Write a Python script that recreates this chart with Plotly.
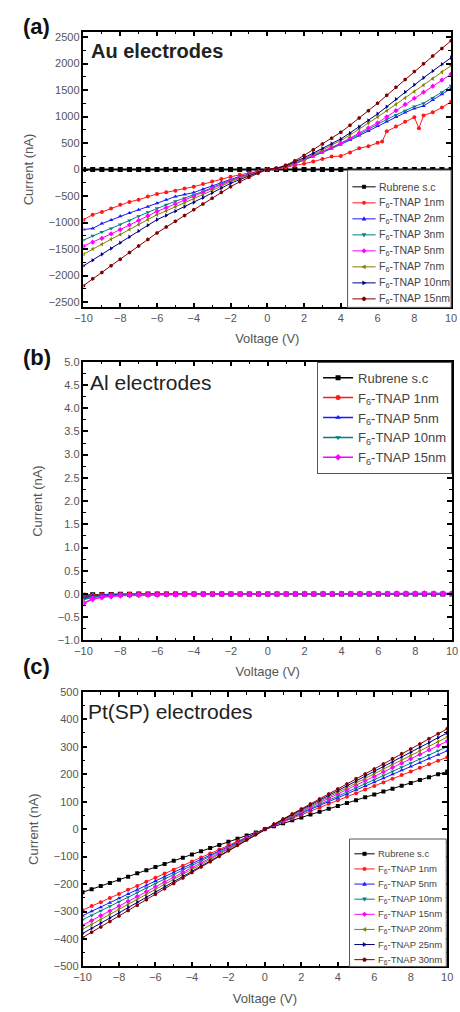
import plotly.graph_objects as go

W, H = 460, 1012

# ---------------- data ----------------
V = [-10, -9.5, -9, -8.5, -8, -7.5, -7, -6.5, -6, -5.5, -5, -4.5, -4, -3.5, -3, -2.5, -2, -1.5, -1, -0.5,
     0, 0.5, 1, 1.5, 2, 2.5, 3, 3.5, 4, 4.5, 5, 5.5, 6, 6.5, 7, 7.5, 8, 8.5, 9, 9.5, 10]

# (a) Au electrodes
A_LABELS = ["Rubrene s.c", "F<sub>6</sub>-TNAP 1nm", "F<sub>6</sub>-TNAP 2nm", "F<sub>6</sub>-TNAP 3nm",
            "F<sub>6</sub>-TNAP 5nm", "F<sub>6</sub>-TNAP 7nm", "F<sub>6</sub>-TNAP 10nm", "F<sub>6</sub>-TNAP 15nm"]
A_RUB = [0] * 41
V_A_1NM = [-10, -9.5, -9, -8.5, -8, -7.5, -7, -6.5, -6, -5.5, -5, -4.5, -4, -3.5, -3, -2.5, -2, -1.5, -1, -0.5,
           0, 0.5, 1, 1.5, 2, 2.5, 3, 3.5, 4, 4.5, 5, 5.5, 6, 6.25, 6.5, 7, 7.5, 8, 8.25, 8.5, 9, 9.5, 10]
A_1NM = [-945, -852, -800, -735, -665, -610, -570, -510, -460, -430, -400, -360, -323, -275, -225, -180, -137, -100, -65, -30,
         0, 10, 40, 72, 110, 150, 200, 245, 255, 320, 400, 440, 505, 530, 720, 810, 900, 985, 780, 1020, 1080, 1170, 1280]
A_2NM = [-1132, -1110, -1020, -950, -883, -820, -760, -700, -634, -570, -510, -470, -435, -370, -305, -245, -187, -130, -85, -40,
         0, 18, 55, 108, 175, 248, 322, 398, 473, 555, 640, 728, 820, 905, 990, 1075, 1150, 1200, 1310, 1420, 1530]
A_3NM = [-1331, -1250, -1180, -1110, -1039, -960, -880, -805, -728, -665, -600, -542, -485, -415, -340, -268, -199, -140, -90, -42,
         0, 18, 56, 112, 180, 255, 330, 408, 485, 575, 665, 762, 860, 945, 1030, 1110, 1190, 1250, 1350, 1460, 1580]
A_5NM = [-1443, -1370, -1300, -1215, -1132, -1045, -960, -875, -790, -720, -650, -580, -510, -435, -360, -285, -211, -150, -95, -45,
         0, 20, 58, 118, 190, 265, 342, 420, 498, 590, 685, 782, 880, 995, 1110, 1228, 1345, 1460, 1572, 1688, 1800]
A_7NM = [-1598, -1500, -1410, -1315, -1225, -1130, -1035, -945, -852, -780, -705, -632, -560, -478, -395, -312, -230, -165, -105, -50,
         0, 20, 62, 125, 200, 285, 372, 460, 547, 650, 758, 872, 990, 1110, 1230, 1350, 1470, 1592, 1715, 1838, 1960]
A_10NM = [-1816, -1710, -1600, -1490, -1381, -1270, -1160, -1050, -945, -865, -785, -700, -622, -530, -440, -350, -261, -190, -120, -55,
          0, 22, 70, 140, 224, 310, 398, 488, 578, 690, 805, 925, 1050, 1185, 1325, 1462, 1600, 1730, 1858, 1985, 2110]
A_15NM = [-2190, -2060, -1940, -1815, -1690, -1565, -1440, -1318, -1195, -1085, -975, -865, -760, -650, -540, -430, -325, -230, -145, -70,
          0, 25, 80, 165, 267, 375, 480, 590, 703, 835, 970, 1110, 1250, 1400, 1550, 1700, 1850, 1995, 2140, 2285, 2430]

# (b) Al electrodes
B_LABELS = ["Rubrene s.c", "F<sub>6</sub>-TNAP 1nm", "F<sub>6</sub>-TNAP 5nm", "F<sub>6</sub>-TNAP 10nm", "F<sub>6</sub>-TNAP 15nm"]
B_RUB = [-0.03, -0.02, -0.01, -0.01, -0.005, -0.005, 0, 0, 0, 0, 0, 0, 0, 0, 0, 0, 0, 0, 0, 0,
         0, 0, 0, 0, 0, 0, 0, 0, 0, 0, 0, 0, 0, 0, 0, 0, 0, 0, 0, 0, 0]
B_1NM = [-0.06, -0.035, -0.02, -0.015, -0.01, -0.008, -0.006, -0.005, -0.004, -0.003, -0.003, -0.002, -0.002, -0.001, -0.001, 0, 0, 0, 0, 0,
         0, 0, 0, 0, 0.001, 0.001, 0.001, 0.001, 0.002, 0.002, 0.002, 0.002, 0.003, 0.003, 0.003, 0.003, 0.004, 0.004, 0.004, 0.005, 0.005]
B_5NM = [-0.08, -0.05, -0.03, -0.02, -0.015, -0.01, -0.008, -0.006, -0.005, -0.004, -0.003, -0.003, -0.002, -0.002, -0.001, -0.001, 0, 0, 0, 0,
         0, 0, 0, 0.001, 0.001, 0.001, 0.002, 0.002, 0.002, 0.003, 0.003, 0.003, 0.004, 0.004, 0.004, 0.005, 0.005, 0.005, 0.006, 0.006, 0.006]
B_10NM = [-0.12, -0.07, -0.045, -0.03, -0.02, -0.015, -0.012, -0.01, -0.008, -0.006, -0.005, -0.004, -0.003, -0.003, -0.002, -0.001, -0.001, 0, 0, 0,
          0, 0, 0.001, 0.001, 0.002, 0.002, 0.002, 0.003, 0.003, 0.004, 0.004, 0.004, 0.005, 0.005, 0.006, 0.006, 0.006, 0.007, 0.007, 0.008, 0.008]
B_15NM = [-0.2, -0.11, -0.07, -0.05, -0.035, -0.028, -0.022, -0.018, -0.015, -0.012, -0.01, -0.008, -0.007, -0.005, -0.004, -0.003, -0.002, -0.001, 0, 0,
          0, 0, 0.001, 0.001, 0.002, 0.002, 0.003, 0.003, 0.004, 0.004, 0.005, 0.005, 0.006, 0.006, 0.007, 0.007, 0.008, 0.008, 0.009, 0.009, 0.01]

# (c) Pt(SP) electrodes
C_LABELS = ["Rubrene s.c", "F<sub>6</sub>-TNAP 1nm", "F<sub>6</sub>-TNAP 5nm", "F<sub>6</sub>-TNAP 10nm",
            "F<sub>6</sub>-TNAP 15nm", "F<sub>6</sub>-TNAP 20nm", "F<sub>6</sub>-TNAP 25nm", "F<sub>6</sub>-TNAP 30nm"]
C_RUB = [-230, -219, -207, -196, -184, -173, -161, -150, -138, -127, -115, -104, -92, -81, -69, -58, -46, -35, -23, -12,
         0, 10, 21, 32, 42, 53, 63, 74, 84, 95, 105, 116, 126, 137, 147, 158, 168, 179, 189, 200, 210]
C_1NM = [-295, -280, -266, -251, -236, -221, -207, -192, -177, -162, -148, -133, -118, -103, -89, -74, -59, -44, -30, -15,
         0, 13, 26, 39, 52, 66, 79, 92, 105, 118, 131, 144, 157, 170, 183, 197, 210, 223, 236, 249, 262]
C_5NM = [-315, -299, -284, -268, -252, -236, -221, -205, -189, -173, -158, -142, -126, -110, -95, -79, -63, -47, -32, -16,
         0, 14, 29, 43, 57, 71, 86, 100, 114, 128, 143, 157, 171, 185, 200, 214, 228, 242, 257, 271, 285]
C_10NM = [-330, -314, -297, -281, -264, -248, -231, -215, -198, -182, -165, -149, -132, -116, -99, -83, -66, -50, -33, -17,
          0, 15, 30, 45, 60, 75, 90, 105, 120, 135, 150, 165, 180, 195, 210, 225, 240, 255, 270, 285, 300]
C_15NM = [-350, -333, -315, -298, -280, -263, -245, -228, -210, -193, -175, -158, -140, -123, -105, -88, -70, -53, -35, -18,
          0, 16, 32, 48, 64, 80, 96, 112, 128, 144, 160, 176, 192, 208, 224, 240, 256, 272, 288, 304, 320]
C_20NM = [-365, -347, -329, -310, -292, -274, -256, -237, -219, -201, -183, -164, -146, -128, -110, -91, -73, -55, -37, -18,
          0, 17, 34, 50, 67, 84, 101, 117, 134, 151, 168, 184, 201, 218, 235, 251, 268, 285, 302, 318, 335]
C_25NM = [-380, -361, -342, -323, -304, -285, -266, -247, -228, -209, -190, -171, -152, -133, -114, -95, -76, -57, -38, -19,
          0, 18, 35, 53, 70, 88, 105, 123, 140, 158, 175, 193, 210, 228, 245, 263, 280, 298, 315, 333, 350]
C_30NM = [-395, -375, -356, -336, -316, -296, -277, -257, -237, -217, -198, -178, -158, -138, -119, -99, -79, -59, -40, -20,
          0, 18, 37, 55, 73, 91, 110, 128, 146, 164, 183, 201, 219, 237, 256, 274, 292, 310, 329, 347, 365]

# ---------------- styles ----------------
COLORS8 = ["#000000", "#ff1a1a", "#1a1aff", "#008080", "#ff00ff", "#808000", "#000080", "#800000"]
SYMBOLS8 = ["square", "circle", "triangle-up", "triangle-down", "diamond", "triangle-left", "triangle-right", "hexagon"]
COLORS5 = ["#000000", "#ff1a1a", "#1a1aff", "#008080", "#ff00ff"]
SYMBOLS5 = ["square", "circle", "triangle-up", "triangle-down", "diamond"]
FONT = "Arial, Liberation Sans, sans-serif"

fig = go.Figure()

a_series = [(V, A_RUB), (V_A_1NM, A_1NM), (V, A_2NM), (V, A_3NM), (V, A_5NM), (V, A_7NM), (V, A_10NM), (V, A_15NM)]
for i, (xs, ys) in enumerate(a_series):
    fig.add_trace(go.Scatter(x=xs, y=ys, mode="lines+markers", name=A_LABELS[i], showlegend=False,
                             line=dict(color=COLORS8[i], width=2 if i == 0 else 1),
                             marker=dict(color=COLORS8[i], symbol=SYMBOLS8[i], size=5 if i == 0 else 4),
                             xaxis="x", yaxis="y"))

b_series = [B_RUB, B_1NM, B_5NM, B_10NM, B_15NM]
for i, ys in enumerate(b_series):
    fig.add_trace(go.Scatter(x=V, y=ys, mode="lines+markers", name=B_LABELS[i],
                             line=dict(color=COLORS5[i], width=1.5),
                             marker=dict(color=COLORS5[i], symbol=SYMBOLS5[i], size=5),
                             xaxis="x2", yaxis="y2", legend="legend2"))

c_series = [C_RUB, C_1NM, C_5NM, C_10NM, C_15NM, C_20NM, C_25NM, C_30NM]
for i, ys in enumerate(c_series):
    fig.add_trace(go.Scatter(x=V, y=ys, mode="lines+markers", name=C_LABELS[i], showlegend=False,
                             line=dict(color=COLORS8[i], width=1),
                             marker=dict(color=COLORS8[i], symbol=SYMBOLS8[i], size=4),
                             xaxis="x3", yaxis="y3"))


def px_x(p):
    return p / W


def px_y(p):
    return 1 - p / H


def xax(dom, anchor):
    return dict(domain=[px_x(dom[0]), px_x(dom[1])], anchor=anchor, range=[-10, 10], dtick=2, tick0=0,
                showline=True, linecolor="black", linewidth=1.5, mirror="ticks",
                ticks="inside", ticklen=5, tickwidth=1.5, tickcolor="black",
                minor=dict(ticks="inside", ticklen=3, tickwidth=1, tickcolor="black", dtick=1),
                showgrid=False, zeroline=False,
                tickfont=dict(family=FONT, size=11, color="#555"),
                title=dict(text="Voltage (V)", font=dict(family=FONT, size=13, color="#555"), standoff=11))


def yax(dom, anchor, rng, dtick, minor_dtick, fmt=None, standoff=12):
    d = dict(domain=[px_y(dom[1]), px_y(dom[0])], anchor=anchor, range=rng, dtick=dtick,
             showline=True, linecolor="black", linewidth=1.5, mirror="ticks",
             ticks="inside", ticklen=5, tickwidth=1.5, tickcolor="black",
             minor=dict(ticks="inside", ticklen=3, tickwidth=1, tickcolor="black", dtick=minor_dtick),
             showgrid=False, zeroline=False,
             tickfont=dict(family=FONT, size=11, color="#555"),
             title=dict(text="Current (nA)", font=dict(family=FONT, size=13, color="#555"), standoff=standoff))
    if fmt:
        d["tickformat"] = fmt
    return d


fig.update_layout(
    width=W, height=H,
    margin=dict(l=0, r=0, t=0, b=0),
    paper_bgcolor="white", plot_bgcolor="white",
    font=dict(family=FONT, color="#444"),
    xaxis=xax((77, 457), "y"),
    yaxis=yax((26, 305), "x", [-2600, 2600], 500, 250, standoff=12),
    xaxis2=xax((77, 458), "y2"),
    yaxis2=yax((360, 642), "x2", [-1, 5], 0.5, 0.25, fmt=".1f", standoff=12),
    xaxis3=xax((76, 453), "y3"),
    yaxis3=yax((694, 972), "x3", [-500, 500], 100, 50, standoff=12),
    legend2=dict(x=px_x(458), xanchor="right", y=px_y(360), yanchor="top",
                 font=dict(family=FONT, size=13, color="#444"),
                 bgcolor="white", bordercolor="#555", borderwidth=1, itemwidth=30, tracegroupgap=0),
    showlegend=True,
)

shapes = []
annotations = []


def symbol_shape(sym, cx, cy, r):
    if sym == "square":
        return dict(type="rect", x0=px_x(cx - r), x1=px_x(cx + r), y0=px_y(cy + r), y1=px_y(cy - r))
    if sym == "circle":
        return dict(type="circle", x0=px_x(cx - r), x1=px_x(cx + r), y0=px_y(cy + r), y1=px_y(cy - r))
    pts = {
        "triangle-up": [(0, -1.2), (1.1, 0.8), (-1.1, 0.8)],
        "triangle-down": [(0, 1.2), (1.1, -0.8), (-1.1, -0.8)],
        "diamond": [(0, -1.3), (1.3, 0), (0, 1.3), (-1.3, 0)],
        "triangle-left": [(-1.2, 0), (0.8, -1.1), (0.8, 1.1)],
        "triangle-right": [(1.2, 0), (-0.8, -1.1), (-0.8, 1.1)],
        "hexagon": [(1.1, 0), (0.55, -1), (-0.55, -1), (-1.1, 0), (-0.55, 1), (0.55, 1)],
    }[sym]
    path = "M " + " L ".join(f"{px_x(cx + dx * r):.5f},{px_y(cy + dy * r):.5f}" for dx, dy in pts) + " Z"
    return dict(type="path", path=path)


def manual_legend(box, rows_y0, pitch, labels, colors, symbols, line_x, text_x, fsize):
    x0, y0, x1, y1 = box
    shapes.append(dict(type="rect", xref="paper", yref="paper", layer="above",
                       x0=px_x(x0), x1=px_x(x1), y0=px_y(y1), y1=px_y(y0),
                       fillcolor="white", line=dict(color="#555", width=1)))
    for i, lab in enumerate(labels):
        cy = rows_y0 + i * pitch
        shapes.append(dict(type="line", xref="paper", yref="paper", layer="above",
                           x0=px_x(line_x[0]), x1=px_x(line_x[1]), y0=px_y(cy), y1=px_y(cy),
                           line=dict(color=colors[i], width=1)))
        s = symbol_shape(symbols[i], (line_x[0] + line_x[1]) / 2, cy, 1.8)
        s.update(xref="paper", yref="paper", layer="above", fillcolor=colors[i], line=dict(color=colors[i], width=0.5))
        shapes.append(s)
        annotations.append(dict(text=lab, x=px_x(text_x), y=px_y(cy), xref="paper", yref="paper",
                                xanchor="left", yanchor="middle", showarrow=False,
                                font=dict(family=FONT, size=fsize, color="#444")))


manual_legend((350, 166, 457, 305), 183, 16.2, A_LABELS, COLORS8, SYMBOLS8, (355, 379), 380, 10.5)
manual_legend((352, 843, 452, 972), 858, 15.3, C_LABELS, COLORS8, SYMBOLS8, (357, 378), 379, 9.5)

texts = [
    ("<b>(a)</b>", 12, 21, 22, "#111"),
    ("<b>(b)</b>", 12, 356, 22, "#111"),
    ("<b>(c)</b>", 12, 668, 22, "#111"),
    ("<b>Au electrodes</b>", 83, 46, 20, "#222"),
    ("Al electrodes", 82, 381, 21, "#222"),
    ("Pt(SP) electrodes", 80, 714, 21, "#222"),
]
for t, x, y, s, c in texts:
    annotations.append(dict(text=t, x=px_x(x), y=px_y(y), xref="paper", yref="paper", xanchor="left",
                            yanchor="middle", showarrow=False, font=dict(family=FONT, size=s, color=c)))

fig.update_layout(shapes=shapes, annotations=annotations)

fig.write_html("out.html")
